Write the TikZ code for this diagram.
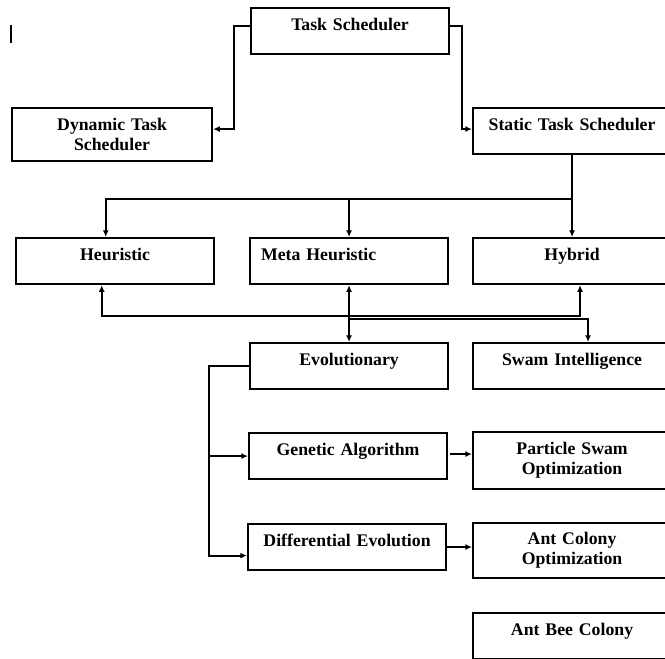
\documentclass[tikz,border=0pt]{standalone}
\usepackage{fontspec}
\setmainfont{Liberation Serif}[WordSpace=0.6]
\usetikzlibrary{arrows.meta,calc}

\begin{document}
\begin{tikzpicture}[x=0.75pt,y=-0.75pt,
		box/.style={draw,line width=1.6pt,anchor=north west,inner sep=0pt,align=center,
			text width=148.5pt,font=\fontsize{13.3}{15}\selectfont\bfseries},
		one/.style={text height=17pt,text depth=17.5pt},
		tall/.style={minimum height=#1},
		arr/.style={line width=1.5pt,-{Latex[length=5pt,width=4.5pt]}},
		both/.style={line width=1.5pt,{Latex[length=5pt,width=4.5pt]}-{Latex[length=5pt,width=4.5pt]}}]
		\useasboundingbox (0,0) rectangle (665,659);
		\clip (0,0) rectangle (665,659);
		\draw[line width=0.8pt] (11,25) -- (11,43);
		
		\node[box,one] (ts) at (250,7) {Task Scheduler};
		\node[box,tall=39.75pt,text width=150pt] (dts) at (11,107) {Dynamic Task\\Scheduler};
		\node[box,one] (sts) at (472,107) {Static Task Scheduler};
		\node[box,one] (heu) at (15,237) {Heuristic};
		\node[box,one,align=left] (meta) at (249,237) {\hspace*{8.25pt}Meta Heuristic};
		\node[box,one] (hyb) at (472,237) {Hybrid};
		\node[box,one] (evo) at (249,342) {Evolutionary};
		\node[box,one] (swam) at (472,342) {Swam Intelligence};
		\node[box,one] (ga) at (248,432) {Genetic Algorithm};
		\node[box,one] (de) at (247,523) {Differential Evolution};
		\node[box,tall=42.75pt] (pso) at (472,431) {Particle Swam\\Optimization};
		\node[box,tall=41.25pt] (aco) at (472,522) {Ant Colony\\Optimization};
		\node[box,one] (abc) at (472,612) {Ant Bee Colony};
		
		\coordinate (split) at ($(sts.south)+(0,44)$);
		\coordinate (trunk) at ([xshift=-30pt]evo.west);
		
		\draw[arr] ([yshift=3.75pt]ts.west) -| ([xshift=15.75pt,yshift=4.1pt]dts.east) -- ([yshift=4.1pt]dts.east);
		\draw[arr] ([yshift=3.75pt]ts.east) -| ([xshift=-7.5pt,yshift=1.5pt]sts.west) -- ([yshift=1.5pt]sts.west);
		\draw[arr] (sts.south) -- (hyb.north);
		\draw[arr] (split) -| ([xshift=-7pt]heu.north);
		\draw[arr] (split -| meta.north) -- (meta.north);
		\draw[both] ([xshift=-10pt]heu.south) -- ++(0,31) -| ([xshift=6pt]hyb.south);
		\draw[both] (meta.south) -- (evo.north);
		\draw[arr] ($(meta.south)!0.59!(evo.north)$) -| ([xshift=12pt]swam.north);
		\draw[arr] (evo.west) -- (trunk) |- ([yshift=-6.4pt]de.west);
		\draw[arr] (trunk |- ga.west) -- (ga.west);
		\draw[arr] ([xshift=1.5pt,yshift=1.5pt]ga.east) -- ([yshift=1.5pt]ga.east -| pso.west);
		\draw[arr] (de.east) -- (de.east -| aco.west);
	\end{tikzpicture}
\end{document}
